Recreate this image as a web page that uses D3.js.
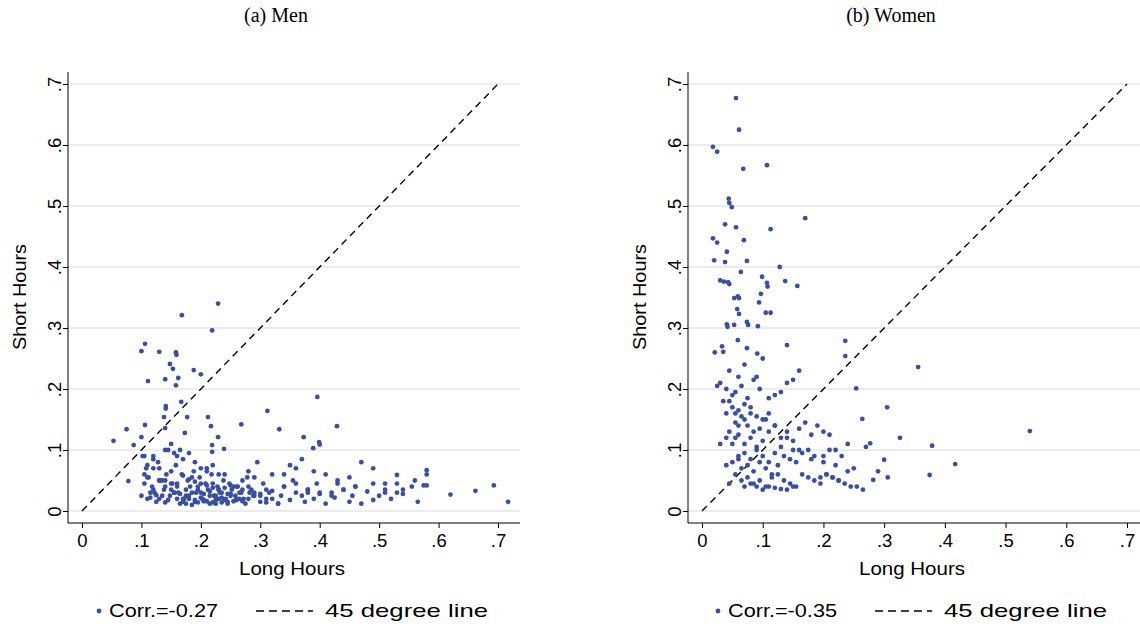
<!DOCTYPE html>
<html><head><meta charset="utf-8">
<script src="https://cdn.jsdelivr.net/npm/d3@7"></script>
<style>body{margin:0;background:#fff}</style></head>
<body><svg id="c" width="1140" height="628"></svg>
<script>
const ticks=[0,.1,.2,.3,.4,.5,.6,.7];
const tickLabels=["0",".1",".2",".3",".4",".5",".6",".7"];
const titles=["(a) Men","(b) Women"];
const corrLabels=["Corr.=-0.27","Corr.=-0.35"];
const menLong=[.229,.168,.219,.106,.1,.13,.158,.159,.148,.153,.188,.2,.111,.14,.162,.158,.167,.141,.141,.138,.177,.212,.217,.268,.312,.396,.429,.332,.373,.399,.4,.389,.075,.106,.053,.087,.1,.14,.173,.229,.219,.219,.239,.078,.717,.693,.662,.62,.58,.58,.58,.565,.56,.555,.54,.54,.53,.52,.51,.5,.49,.48,.47,.46,.455,.45,.44,.43,.425,.42,.41,.4,.395,.39,.38,.375,.37,.36,.355,.35,.34,.335,.33,.32,.315,.31,.305,.3,.295,.29,.285,.28,.275,.27,.265,.26,.255,.25,.245,.24,.235,.23,.225,.22,.215,.21,.205,.2,.195,.19,.185,.18,.175,.17,.165,.16,.155,.15,.145,.14,.135,.13,.125,.12,.115,.11,.105,.1,.102,.108,.112,.118,.122,.128,.132,.138,.142,.148,.152,.158,.162,.168,.172,.178,.182,.188,.192,.198,.202,.208,.212,.218,.222,.228,.232,.238,.242,.248,.252,.258,.262,.268,.272,.278,.282,.288,.15,.16,.17,.18,.19,.2,.21,.22,.23,.24,.25,.26,.27,.14,.13,.12,.11,.105,.155,.165,.175,.185,.195,.205,.215,.225,.235,.245,.255,.265,.31,.33,.35,.37,.39,.41,.43,.45,.47,.49,.51,.53,.3,.32,.34,.36,.38,.28,.29,.12,.13,.14,.15,.16,.17,.18,.19,.2,.21,.22,.23,.11,.135,.145,.155,.165,.175,.185,.195,.205,.215,.225,.235,.245,.115,.125,.105,.12,.13,.14,.15,.16,.17,.18,.19,.2,.21,.22,.23,.24,.25,.26,.27,.28,.29,.3,.31,.32,.34,.36,.38,.4,.42,.44,.46,.575,.53,.51,.49];
const menShort=[.34,.321,.296,.274,.262,.261,.26,.256,.241,.233,.231,.224,.213,.216,.218,.206,.179,.172,.168,.154,.154,.154,.139,.142,.164,.187,.139,.134,.121,.113,.109,.103,.134,.141,.115,.108,.121,.136,.128,.121,.108,.097,.102,.049,.015,.042,.033,.027,.067,.06,.042,.015,.05,.04,.035,.028,.059,.02,.03,.025,.018,.032,.012,.04,.025,.015,.035,.05,.022,.03,.012,.028,.045,.02,.035,.015,.025,.03,.05,.018,.04,.025,.012,.06,.03,.02,.045,.015,.08,.025,.035,.02,.012,.05,.03,.018,.04,.028,.015,.06,.022,.035,.012,.045,.025,.07,.018,.03,.04,.015,.055,.025,.035,.02,.012,.045,.03,.065,.018,.04,.025,.05,.015,.035,.03,.02,.045,.025,.09,.07,.055,.04,.03,.08,.05,.035,.06,.025,.045,.075,.03,.06,.02,.05,.04,.065,.03,.055,.02,.045,.035,.06,.025,.04,.03,.05,.02,.045,.035,.025,.04,.03,.02,.055,.03,.025,.035,.02,.015,.02,.018,.022,.016,.014,.02,.018,.025,.02,.016,.014,.02,.085,.075,.09,.095,.1,.012,.01,.014,.016,.012,.018,.014,.012,.016,.02,.014,.012,.075,.085,.065,.06,.045,.055,.08,.045,.035,.03,.025,.02,.06,.07,.03,.065,.055,.09,.05,.1,.11,.09,.085,.095,.08,.07,.065,.075,.06,.055,.05,.1,.03,.028,.025,.03,.035,.028,.032,.025,.03,.028,.022,.026,.06,.07,.07,.05,.045,.04,.058,.052,.048,.045,.042,.038,.035,.038,.042,.04,.035,.04,.03,.028,.035,.033,.04,.045,.035,.03,.025,.035,.04,.042,.045,.045,.07,.038,.042,.045];
const womenLong=[.056,.061,.018,.025,.068,.107,.044,.045,.049,.17,.038,.056,.113,.018,.025,.069,.041,.02,.038,.074,.064,.128,.099,.107,.108,.137,.157,.03,.036,.043,.045,.059,.061,.053,.097,.094,.058,.061,.105,.113,.041,.042,.053,.076,.074,.092,.059,.14,.021,.035,.033,.074,.091,.236,.236,.254,.305,.264,.277,.3,.282,.306,.356,.54,.375,.379,.417,.326,.025,.03,.04,.05,.06,.07,.045,.055,.065,.075,.085,.095,.035,.05,.06,.07,.08,.09,.1,.11,.12,.04,.055,.065,.075,.085,.095,.105,.045,.055,.06,.07,.08,.09,.1,.11,.12,.13,.14,.15,.16,.05,.06,.07,.08,.09,.1,.11,.12,.13,.14,.15,.16,.17,.18,.19,.2,.21,.22,.23,.24,.25,.04,.05,.06,.065,.075,.085,.095,.105,.115,.125,.135,.145,.155,.165,.175,.185,.195,.205,.215,.225,.045,.055,.065,.075,.085,.095,.105,.115,.125,.135,.145,.155,.165,.175,.185,.195,.205,.215,.225,.235,.245,.255,.265,.07,.08,.09,.1,.11,.12,.13,.14,.15,.045,.055,.03,.04,.06,.07,.08,.09,.1,.11,.12,.13,.14,.15,.16,.18,.2,.22,.24,.27,.29,.2,.21,.22,.23];
const womenShort=[.677,.625,.597,.589,.561,.567,.512,.505,.498,.48,.47,.465,.462,.447,.44,.444,.425,.411,.408,.41,.392,.4,.384,.374,.368,.377,.369,.378,.376,.375,.372,.352,.349,.349,.356,.342,.331,.323,.325,.325,.306,.302,.305,.305,.31,.303,.28,.272,.26,.261,.27,.267,.258,.279,.254,.201,.17,.151,.111,.084,.051,.055,.236,.131,.059,.107,.077,.12,.205,.21,.2,.19,.22,.24,.23,.195,.205,.185,.215,.2,.18,.17,.165,.175,.16,.155,.15,.16,.14,.16,.145,.155,.14,.13,.135,.15,.13,.12,.125,.11,.12,.105,.115,.13,.14,.12,.13,.1,.1,.11,.09,.095,.085,.1,.09,.08,.095,.105,.12,.115,.135,.145,.125,.14,.13,.125,.1,.09,.065,.07,.075,.08,.085,.07,.075,.065,.08,.07,.06,.075,.09,.085,.08,.095,.1,.09,.055,.06,.055,.05,.045,.06,.05,.055,.045,.05,.04,.055,.06,.05,.045,.04,.06,.055,.05,.045,.06,.055,.05,.045,.04,.04,.035,.04,.045,.04,.035,.04,.038,.036,.035,.04,.18,.16,.11,.12,.14,.15,.17,.22,.25,.185,.19,.195,.21,.215,.23,.085,.08,.075,.11,.105,.065,.09,.1];

const svg=d3.select("#c");
const col="#3a4f9f", font="'Liberation Sans',Arial,sans-serif";
const panels=[
 {xl:68,xr:520,x0:82,x7:498,long:menLong,short:menShort,tx:276,lx:99},
 {xl:688,xr:1140,x0:702,x7:1127,long:womenLong,short:womenShort,tx:891,lx:718}];
const y=d3.scaleLinear().domain([0,.7]).range([511,84]);
panels.forEach((p,i)=>{
 const x=d3.scaleLinear().domain([0,.7]).range([p.x0,p.x7]);
 const n=Math.min(p.long.length,p.short.length);
 const pts=d3.range(n).map(k=>[p.long[k],p.short[k]]);
 const g=svg.append("g");
 g.selectAll(".gr").data(ticks).join("line").attr("x1",p.xl).attr("x2",p.xr).attr("y1",d=>y(d)).attr("y2",d=>y(d)).attr("stroke","#e6e6e6").attr("stroke-width",1.3);
 g.append("g").attr("transform","translate(0,523)").call(d3.axisBottom(x).tickValues(ticks).tickFormat((d,k)=>tickLabels[k]).tickSize(5).tickSizeOuter(0))
  .call(a=>{a.select(".domain").attr("d",`M${p.xl},0H${p.xr}`);a.selectAll("text").attr("font-family",font).attr("font-size",18.5).attr("fill","#000").attr("dy","0.85em");});
 g.append("g").attr("transform",`translate(${p.xl},0)`).call(d3.axisLeft(y).tickValues(ticks).tickFormat((d,k)=>tickLabels[k]).tickSize(5).tickSizeOuter(0))
  .call(a=>{a.select(".domain").attr("d","M0,72V523");a.selectAll("text").attr("font-family",font).attr("font-size",18.5).attr("fill","#000").attr("transform","rotate(-90)").attr("x",0).attr("y",-7).attr("dy",0).attr("text-anchor","middle");});
 g.append("line").attr("x1",x(0)).attr("y1",y(0)).attr("x2",x(.7)).attr("y2",y(.7)).attr("stroke","#000").attr("stroke-width",1.4).attr("stroke-dasharray","7,5");
 g.selectAll("circle.pt").data(pts).join("circle").attr("class","pt").attr("cx",d=>x(d[0])).attr("cy",d=>y(d[1])).attr("r",2.4).attr("fill",col);
 g.append("text").attr("x",p.tx).attr("y",22).attr("text-anchor","middle").attr("font-family","'Liberation Serif',serif").attr("font-size",20).text(titles[i]);
 g.append("text").attr("x",(p.xl+p.xr)/2-2).attr("y",575).attr("text-anchor","middle").attr("font-family",font).attr("font-size",19).attr("textLength",106).attr("lengthAdjust","spacingAndGlyphs").text("Long Hours");
 g.append("text").attr("transform",`translate(${p.xl-42},297) rotate(-90)`).attr("text-anchor","middle").attr("font-family",font).attr("font-size",19).attr("textLength",106).attr("lengthAdjust","spacingAndGlyphs").text("Short Hours");
 g.append("circle").attr("cx",p.lx).attr("cy",611).attr("r",2.4).attr("fill",col);
 g.append("text").attr("x",p.lx+10).attr("y",617).attr("font-family",font).attr("font-size",19).attr("textLength",109).attr("lengthAdjust","spacingAndGlyphs").text(corrLabels[i]);
 g.append("line").attr("x1",p.lx+157).attr("x2",p.lx+214).attr("y1",611).attr("y2",611).attr("stroke","#000").attr("stroke-width",1.4).attr("stroke-dasharray","8,5");
 g.append("text").attr("x",p.lx+226).attr("y",617).attr("font-family",font).attr("font-size",19).attr("textLength",163).attr("lengthAdjust","spacingAndGlyphs").text("45 degree line");
});
</script></body></html>
